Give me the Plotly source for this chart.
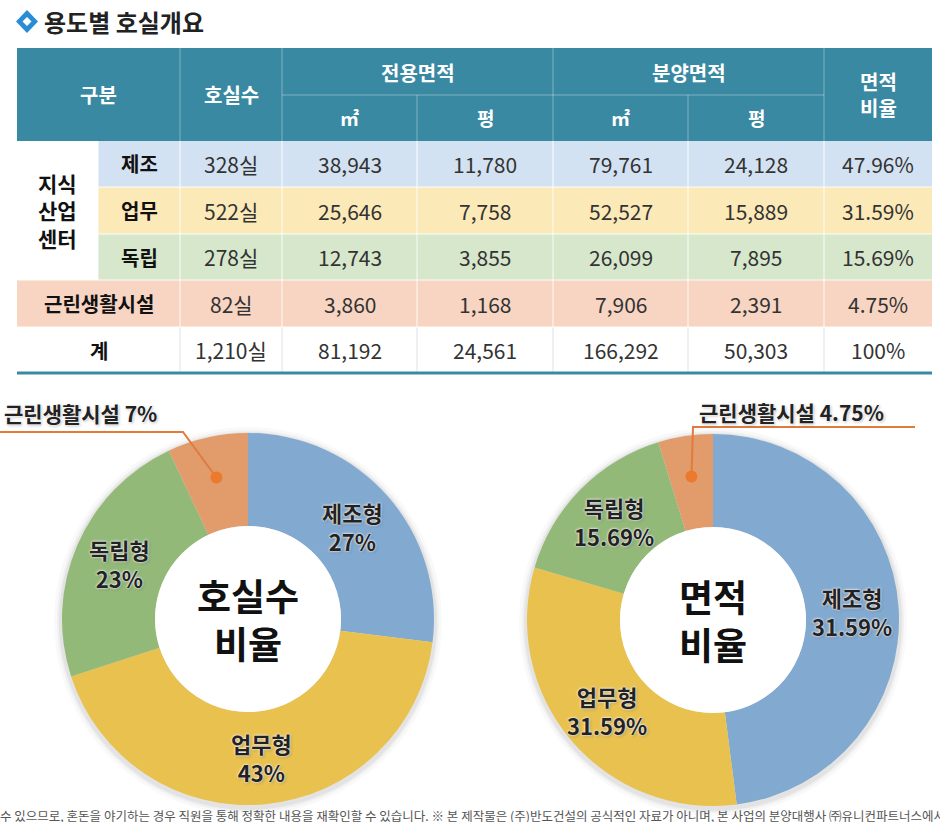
import math
import plotly.graph_objects as go

# ---------------- data ----------------
title_text = "용도별 호실개요"
group_label = "지식<br>산업<br>센터"
row_labels = ["제조", "업무", "독립", "근린생활시설"]
total_label = "계"
rooms = [328, 522, 278, 82]
rooms_total = 1210
excl_m2 = [38943, 25646, 12743, 3860]
excl_m2_total = 81192
excl_py = [11780, 7758, 3855, 1168]
excl_py_total = 24561
sale_m2 = [79761, 52527, 26099, 7906]
sale_m2_total = 166292
sale_py = [24128, 15889, 7895, 2391]
sale_py_total = 50303
area_ratio = ["47.96%", "31.59%", "15.69%", "4.75%"]
area_ratio_total = "100%"

donut_names = ["제조형", "업무형", "독립형", "근린생활시설"]
room_share = [27, 43, 23, 7]
room_share_text = ["27%", "43%", "23%", "7%"]
area_share = [47.96, 31.59, 15.69, 4.75]
area_share_text = ["31.59%", "31.59%", "15.69%", "4.75%"]  # as printed on the original
room_center = "호실수<br>비율"
area_center = "면적<br>비율"

footnote = ("수 있으므로, 혼돈을 야기하는 경우 직원을 통해 정확한 내용을 재확인할 수 있습니다. "
            "※ 본 제작물은 (주)반도건설의 공식적인 자료가 아니며, 본 사업의 분양대행사 ㈜유니컨파트너스에서 임시")

# ---------------- style ----------------
W, H = 940, 822
FONT = "Noto Sans CJK KR"
TEAL = "#3A89A3"
ROW_FILL = ["#D3E2F2", "#FCE9B8", "#D6E7CC", "#F7D5C2"]
SLICE = ["#82A9D0", "#E9C14E", "#93B979", "#E29B6B"]
DARK = "#222222"


def X(px):
    return px / W


def Y(py):
    return 1 - py / H


col_edges = [17, 98, 180, 282, 417, 553, 688, 824, 932]
row_edges = [48, 95, 141, 187, 234, 280, 327, 373]

shapes = []
ann = []


def rect(x0, y0, x1, y1, fill, line_w=0, line_c=None, layer="below"):
    shapes.append(dict(type="rect", xref="paper", yref="paper",
                       x0=X(x0), x1=X(x1), y0=Y(y1), y1=Y(y0),
                       fillcolor=fill, line=dict(width=line_w, color=line_c or fill),
                       layer=layer))


def line(x0, y0, x1, y1, color, width=1):
    shapes.append(dict(type="line", xref="paper", yref="paper",
                       x0=X(x0), x1=X(x1), y0=Y(y0), y1=Y(y1),
                       line=dict(color=color, width=width)))


def text(x, y, s, size=20, color=DARK, bold=False, xanchor="center", shadow=None, weight=None):
    f = dict(family=FONT, size=size, color=color)
    if bold:
        f["weight"] = "bold"
    if weight:
        f["weight"] = weight
    if shadow:
        f["shadow"] = shadow
    ann.append(dict(x=X(x), y=Y(y), xref="paper", yref="paper", text=s, showarrow=False,
                    xanchor=xanchor, yanchor="middle", font=f, align="center"))


# ---- title ----
shapes.append(dict(type="path", xref="paper", yref="paper",
                   path=f"M {X(27)} {Y(10)} L {X(38)} {Y(21.5)} L {X(27)} {Y(33)} L {X(16)} {Y(21.5)} Z",
                   fillcolor="#2A8BD6", line=dict(width=0)))
shapes.append(dict(type="path", xref="paper", yref="paper",
                   path=f"M {X(27)} {Y(17)} L {X(31.5)} {Y(21.5)} L {X(27)} {Y(26)} L {X(22.5)} {Y(21.5)} Z",
                   fillcolor="white", line=dict(width=0)))
text(42, 22, title_text, size=24, color=DARK, xanchor="left", bold=True)

# ---- table backgrounds ----
rect(col_edges[0], row_edges[0], col_edges[-1], row_edges[2], TEAL)
for i in range(3):
    rect(col_edges[1], row_edges[2 + i], col_edges[-1], row_edges[3 + i], ROW_FILL[i])
rect(col_edges[0], row_edges[5], col_edges[-1], row_edges[6], ROW_FILL[3])

# header grid
hl = "rgba(255,255,255,0.35)"
for x in [180, 282, 553, 824]:
    line(x, row_edges[0], x, row_edges[2], hl)
for x in [417, 688]:
    line(x, row_edges[1], x, row_edges[2], hl)
line(282, row_edges[1], 824, row_edges[1], hl)

# body grid
for x in col_edges[2:-1]:
    line(x, row_edges[2], x, row_edges[6], "rgba(255,255,255,0.9)")
    line(x, row_edges[6], x, row_edges[7], "#DCE3E8")
line(col_edges[1], row_edges[2], col_edges[1], row_edges[5], "rgba(255,255,255,0.9)")
for yy in row_edges[3:6]:
    line(col_edges[1] if yy < row_edges[5] else col_edges[0], yy, col_edges[-1], yy, "rgba(255,255,255,0.9)")
line(col_edges[0], row_edges[6], col_edges[-1], row_edges[6], "rgba(255,255,255,0.9)")
line(col_edges[0], row_edges[7], col_edges[-1], row_edges[7], TEAL, 3)

# header texts
hy_top = (row_edges[0] + row_edges[1]) / 2 + 1
hy_bot = (row_edges[1] + row_edges[2]) / 2
hy_mid = (row_edges[0] + row_edges[2]) / 2
text((col_edges[0] + col_edges[2]) / 2, hy_mid, "구분", 20, "white", True)
text((col_edges[2] + col_edges[3]) / 2, hy_mid, "호실수", 20, "white", True)
text((col_edges[3] + col_edges[5]) / 2, hy_top, "전용면적", 20, "white", True)
text((col_edges[5] + col_edges[7]) / 2, hy_top, "분양면적", 20, "white", True)
for i, lab in zip(range(3, 7), ["㎡", "평", "㎡", "평"]):
    text((col_edges[i] + col_edges[i + 1]) / 2, hy_bot, lab, 19, "white", True)
text((col_edges[7] + col_edges[8]) / 2, hy_mid, "면적<br>비율", 20, "white", True)

# body texts
centers = [(col_edges[i] + col_edges[i + 1]) / 2 for i in range(2, 8)]
NUMC = "#333333"
for r in range(4):
    cy = (row_edges[2 + r] + row_edges[3 + r]) / 2
    if r < 3:
        text((col_edges[1] + col_edges[2]) / 2, cy, row_labels[r], 20, "#111", True)
    else:
        text((col_edges[0] + col_edges[2]) / 2, cy, row_labels[r], 20, "#111", True)
    vals = [f"{rooms[r]:,}실", f"{excl_m2[r]:,}", f"{excl_py[r]:,}",
            f"{sale_m2[r]:,}", f"{sale_py[r]:,}", area_ratio[r]]
    for cx, v in zip(centers, vals):
        text(cx, cy, v, 21, NUMC)
cy = (row_edges[6] + row_edges[7]) / 2
text((col_edges[0] + col_edges[2]) / 2, cy, total_label, 20, "#111", True)
vals = [f"{rooms_total:,}실", f"{excl_m2_total:,}", f"{excl_py_total:,}",
        f"{sale_m2_total:,}", f"{sale_py_total:,}", area_ratio_total]
for cx, v in zip(centers, vals):
    text(cx, cy, v, 21, NUMC)
text((col_edges[0] + col_edges[1]) / 2, (row_edges[2] + row_edges[5]) / 2, group_label, 21, "#111", True)

# ---------------- donuts ----------------
R = 186
HOLE = 0.5
donuts = [
    dict(cx=248, cy=619, values=room_share, texts=room_share_text, center=room_center,
         lab_pos=(2, 413), lab_anchor="left", elbow=(183, 432), end=(0, 432)),
    dict(cx=713, cy=620, values=area_share, texts=area_share_text, center=area_center,
         lab_pos=(697, 412), lab_anchor="left", elbow=(693, 427), end=(915, 427)),
]

fig = go.Figure()
GLOW = "0px 0px 2px #ffffff, 0px 0px 3px #ffffff, 1px 1px 3px rgba(0,0,0,0.35)"

for d in donuts:
    cx, cy = d["cx"], d["cy"]
    # soft drop shadow
    for k, a in [(8, 0.025), (5, 0.035), (3, 0.05)]:
        shapes.append(dict(type="circle", xref="paper", yref="paper",
                           x0=X(cx - R - k), x1=X(cx + R + k), y0=Y(cy + R + k + 2), y1=Y(cy - R - k + 2),
                           fillcolor=f"rgba(0,0,0,{a})", line=dict(width=0), layer="below"))
    # keep the hole white
    rh = R * HOLE
    shapes.append(dict(type="circle", xref="paper", yref="paper",
                       x0=X(cx - rh), x1=X(cx + rh), y0=Y(cy + rh), y1=Y(cy - rh),
                       fillcolor="white", line=dict(width=0), layer="above"))
    fig.add_trace(go.Pie(
        values=d["values"], labels=donut_names, sort=False, direction="clockwise",
        rotation=0, hole=HOLE, marker=dict(colors=SLICE, line=dict(width=0)),
        textinfo="none", hoverinfo="label+percent", showlegend=False,
        domain=dict(x=[X(cx - R), X(cx + R)], y=[Y(cy + R), Y(cy - R)]),
    ))
    tot = sum(d["values"])
    acc = 0
    rmid = R * (1 + HOLE) / 2
    for i, v in enumerate(d["values"]):
        ang = (acc + v / 2) / tot * 2 * math.pi
        acc += v
        if i < 3:
            px = cx + rmid * math.sin(ang)
            py = cy - rmid * math.cos(ang)
            text(px, py, f"{donut_names[i]}<br>{d['texts'][i]}", 22, DARK, True, shadow=GLOW)
        else:
            dx = cx + 145 * math.sin(ang)
            dy = cy - 145 * math.cos(ang)
            ex, ey = d["elbow"]
            nx, ny = d["end"]
            shapes.append(dict(type="path", xref="paper", yref="paper",
                               path=f"M {X(nx)} {Y(ny)} L {X(ex)} {Y(ey)} L {X(dx)} {Y(dy)}",
                               line=dict(color="#E07B3C", width=2)))
            shapes.append(dict(type="circle", xref="paper", yref="paper",
                               x0=X(dx - 6), x1=X(dx + 6), y0=Y(dy + 6), y1=Y(dy - 6),
                               fillcolor="#EC7A2C", line=dict(width=0)))
            lx, ly = d["lab_pos"]
            text(lx, ly, f"{donut_names[i]} {d['texts'][i]}", 21, DARK, True,
                 xanchor=d["lab_anchor"], shadow=GLOW)
    text(cx, cy, d["center"], 37, "#111111", True)

# footnote
text(-2, 815, footnote, 12.5, "#555555", xanchor="left")

fig.update_layout(
    width=W, height=H, margin=dict(l=0, r=0, t=0, b=0),
    paper_bgcolor="white", plot_bgcolor="white",
    shapes=shapes, annotations=ann,
    font=dict(family=FONT),
)
fig.write_html("out.html", config={"displayModeBar": False},
               post_script="document.body.style.margin='0';")
